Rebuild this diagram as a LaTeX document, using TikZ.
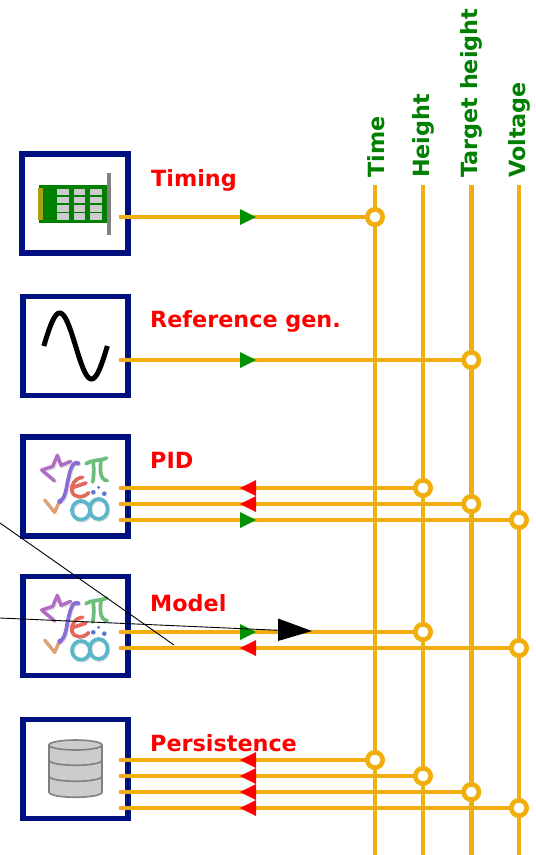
\documentclass[tikz,border=0pt]{standalone}
\usepackage{fontspec}
\setmainfont{DejaVu Sans}
\usetikzlibrary{decorations.markings}
\definecolor{boxnavy}{HTML}{001080}
\definecolor{busorange}{HTML}{F0AE11}
\definecolor{labelred}{HTML}{FF0000}
\definecolor{labelgreen}{HTML}{008000}
\definecolor{arrowgreen}{HTML}{009000}
\definecolor{chipgray}{HTML}{CCCCCC}
\definecolor{edgegray}{HTML}{808080}
\definecolor{goldpin}{HTML}{A8A010}
\definecolor{msigma}{RGB}{178,108,196}
\definecolor{mroot}{RGB}{222,160,112}
\definecolor{mint}{RGB}{138,108,214}
\definecolor{mpi}{RGB}{106,190,122}
\definecolor{mepsilon}{RGB}{226,104,92}
\definecolor{mdots}{RGB}{90,120,210}
\definecolor{minf}{RGB}{90,182,200}
\tikzset{
  modulebox/.style={draw=boxnavy,line width=5.8pt,fill=white,rectangle,inner sep=0pt,outer sep=0pt,minimum width=105.5pt,minimum height=99pt},
  bus/.style={draw=busorange,line width=4.8pt},
  joint/.style={circle,draw=busorange,line width=4.7pt,fill=white,inner sep=0pt,outer sep=0pt,minimum size=15.3pt},
  writes/.style={bus,postaction={decorate},decoration={markings,mark=at position 121pt with {\fill[arrowgreen] (0,-8)--(16,0)--(0,8)--cycle;}}},
  reads/.style={bus,postaction={decorate},decoration={markings,mark=at position 121pt with {\fill[labelred] (16,-8)--(0,0)--(16,8)--cycle;}}},
  modname/.style={text=labelred,font=\bfseries\fontsize{22.3}{24}\selectfont,anchor=base west,inner sep=0pt},
  signame/.style={text=labelgreen,font=\bfseries\fontsize{22.3}{24}\selectfont,rotate=90,anchor=base west,inner sep=0pt},
  mstroke/.style={line width=3.4pt,line cap=round,line join=round},
  mthick/.style={line width=3.7pt,line cap=round,line join=round},
  mshadow/.style={mstroke,draw=black!25,opacity=.5,shift={(3,4)}},
  mathicon/.pic={
    \begin{scope}[x=0.3333pt,y=-0.3333pt]
      \draw[mshadow] (55,98)--(17,66)--(50,55)--(64,22)--(75,52)--(104,40);
      \draw[mshadow] (128,46) .. controls (108,36) and (102,70) .. (95,100) .. controls (90,130) and (85,155) .. (70,161);
      \draw[mshadow] (135,187) ellipse (27 and 28);
      \draw[mshadow] (188,183) ellipse (27 and 30);
      \draw[mstroke,draw=msigma] (55,98)--(17,66)--(50,55)--(64,22)--(75,52)--(104,40);
      \draw[mstroke,draw=mroot] (26,156)--(56,193)--(70,161);
      \draw[mthick,draw=mint] (128,46) .. controls (108,36) and (102,70) .. (95,100) .. controls (90,130) and (85,155) .. (70,161);
      \fill[mint] (72,160) circle (8) (125,46) circle (7);
      \draw[mthick,draw=mpi] (150,47) .. controls (165,35) and (190,40) .. (212,30);
      \draw[mthick,draw=mpi] (172,44) .. controls (174,65) and (174,85) .. (170,102);
      \draw[mthick,draw=mpi] (195,38) .. controls (192,60) and (190,96) .. (214,98);
      \draw[mthick,draw=mepsilon] (140,88) .. controls (116,90) and (104,112) .. (108,130) .. controls (113,150) and (142,152) .. (158,134);
      \draw[mthick,draw=mepsilon] (112,118) -- (150,105);
      \fill[mdots] (172,133) circle (7) (188,118) circle (5) (205,137) circle (7);
      \draw[mthick,draw=minf] (135,187) ellipse (27 and 28);
      \draw[mthick,draw=minf] (188,183) ellipse (27 and 30);
    \end{scope}
  }
}
\begin{document}
\begin{tikzpicture}[x=1pt,y=-1pt]
\useasboundingbox (0,0) rectangle (536,855);
% module boxes
\node[modulebox] (timing) at (75,203.5) {};
\node[modulebox] (refgen) at (75.5,346) {};
\node[modulebox] (pid) at (75.5,486.5) {};
\node[modulebox] (model) at (75.5,626) {};
\node[modulebox] (persist) at (75.5,769) {};
% card icon
\fill[labelgreen] (39,185) rectangle (108,223);
\fill[goldpin] (38,188) rectangle (42.7,220);
\fill[edgegray] (107,173) rectangle (111,235);
\foreach \cx in {57,73.5,90.3}{\foreach \cy in {188.5,196.8,205,213.2}{
  \fill[chipgray] (\cx,\cy) rectangle ++(11.5,6.5);}}
% sine icon
\draw[black,line width=5pt,line cap=butt] plot[domain=0:360,samples=60,smooth] ({43.8+\x/360*63.6},{346-33*sin(\x)});
% maths icons
\pic at (36,448) {mathicon};
\pic at (36,588) {mathicon};
% database icon
\draw[draw=edgegray,fill=chipgray,line width=1.6pt] (49,745) -- (49,792) .. controls (49,799) and (102,799) .. (102,792) -- (102,745);
\draw[draw=edgegray,fill=chipgray,line width=1.6pt] (75.5,745) ellipse (26.5 and 5);
\draw[draw=edgegray,line width=1.6pt] (49,760) .. controls (49,767) and (102,767) .. (102,760);
\draw[draw=edgegray,line width=1.6pt] (49,776) .. controls (49,783) and (102,783) .. (102,776);
% bus coordinates
\foreach \nm/\xx in {time/375,height/423,target/471.3,volt/519}{
  \coordinate (\nm top) at (\xx,185);
  \coordinate (\nm bot) at (\xx,855);
  \draw[bus] (\nm top) -- (\nm bot);
}
% signal labels
\node[signame] (ltime) at (384.5,178) {Time};
\node[signame] (lheight) at (429.5,178) {Height};
\node[signame] (ltarget) at (477.5,178) {Target height};
\node[signame] (lvolt) at (525.5,178) {Voltage};
% module labels
\node[modname] (ltiming) at (151,186) {Timing};
\node[modname] (lref) at (150,327) {Reference gen.};
\node[modname] (lpid) at (150,468) {PID};
\node[modname] (lmodel) at (150,611) {Model};
\node[modname] (lpers) at (150,751) {Persistence};
% joints
\node[joint] (j1) at (375,217) {};
\node[joint] (j2) at (471.3,360) {};
\node[joint] (j3) at (423,488) {};
\node[joint] (j4) at (471.3,504) {};
\node[joint] (j5) at (519,520) {};
\node[joint] (j6) at (423,632) {};
\node[joint] (j7) at (519,648) {};
\node[joint] (j8) at (375,760) {};
\node[joint] (j9) at (423,776) {};
\node[joint] (j10) at (471.3,792) {};
\node[joint] (j11) at (519,808) {};
% port start points
\foreach \i/\yy in {1/217,2/360,3/488,4/504,5/520,6/632,7/648,8/760,9/776,10/792,11/808}{
  \coordinate (p\i) at (119,\yy);
}
\draw[writes] (p1) -- (j1);
\draw[writes] (p2) -- (j2);
\draw[reads] (p3) -- (j3);
\draw[reads] (p4) -- (j4);
\draw[writes] (p5) -- (j5);
\draw[writes] (p6) -- (j6);
\draw[reads] (p7) -- (j7);
\draw[reads] (p8) -- (j8);
\draw[reads] (p9) -- (j9);
\draw[reads] (p10) -- (j10);
\draw[reads] (p11) -- (j11);
% stray black lines
\coordinate (s1) at (0,523);
\coordinate (s2) at (174,645);
\coordinate (s3) at (0,618);
\coordinate (s4) at (279,630.3);
\coordinate (s5) at (312,631);
\coordinate (s6) at (278,618.5);
\coordinate (s7) at (278,641);
\draw[black,line width=.9pt] (s1) -- (s2);
\draw[black,line width=.9pt] (s3) -- (s4);
\fill[black] (s6) -- (s5) -- (s7) -- cycle;
\end{tikzpicture}
\end{document}
